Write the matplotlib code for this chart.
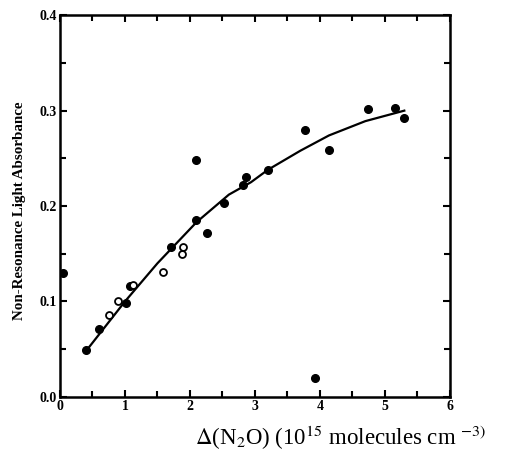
import matplotlib
matplotlib.use("Agg")
import matplotlib.pyplot as plt
from matplotlib.ticker import MultipleLocator

plt.rcParams["mathtext.fontset"] = "stix"

# filled-circle data
filled_x = [0.05, 0.4, 0.6, 1.02, 1.08, 1.71, 2.1, 2.1, 2.26, 2.53, 2.81, 2.86, 3.2, 3.77, 3.93, 4.14, 4.74, 5.16, 5.3]
filled_y = [0.13, 0.049, 0.071, 0.098, 0.116, 0.157, 0.185, 0.248, 0.172, 0.203, 0.222, 0.23, 0.238, 0.28, 0.02, 0.259, 0.302, 0.303, 0.292]
# open-circle data
open_x = [0.75, 0.9, 1.12, 1.58, 1.88, 1.9]
open_y = [0.086, 0.1, 0.117, 0.131, 0.150, 0.157]
# fitted curve
line_x = [0.4, 1.0, 1.5, 2.1, 2.6, 2.94, 3.2, 3.7, 4.14, 4.7, 5.3]
line_y = [0.048, 0.1, 0.14, 0.183, 0.212, 0.225, 0.238, 0.258, 0.274, 0.289, 0.3]
x_ticks = [0, 1, 2, 3, 4, 5, 6]
y_ticks = [0.0, 0.1, 0.2, 0.3, 0.4]
y_tick_labels = ["0.0", "0.1", "0.2", "0.3", "0.4"]

fig = plt.figure(figsize=(5.17, 4.61), dpi=100)
ax = fig.add_axes([0.116, 0.139, 0.754, 0.828])

ax.plot(line_x, line_y, color="black", lw=1.6)
ax.plot(filled_x, filled_y, "o", color="black", ms=5.5)
ax.plot(open_x, open_y, "o", mfc="white", mec="black", mew=1.3, ms=5)

ax.set_xlim(0, 6)
ax.set_ylim(0, 0.4)
ax.set_xticks(x_ticks)
ax.set_xticklabels([str(v) for v in x_ticks], fontweight="bold", family="Liberation Serif")
ax.set_yticks(y_ticks)
ax.set_yticklabels(y_tick_labels, fontweight="bold", family="Liberation Serif")
ax.xaxis.set_minor_locator(MultipleLocator(0.5))
ax.yaxis.set_minor_locator(MultipleLocator(0.05))
ax.tick_params(which="both", direction="in", top=True, right=True, width=1.5)
ax.tick_params(which="major", length=5, labelsize=10, pad=2)
ax.tick_params(which="minor", length=4)
for s in ax.spines.values():
    s.set_linewidth(1.8)

fig.text(0.037, 0.543, "Non-Resonance Light Absorbance", fontsize=10.8, fontweight="bold",
         family="Liberation Serif", rotation=90, ha="center", va="center")
fig.text(0.377, 0.050, r"$\Delta$(N$_2$O) (10$^{15}$ molecules cm $^{-3)}$",
         fontsize=16.5, family="Liberation Serif", ha="left", va="center")

fig.savefig("out.png", dpi=100)
